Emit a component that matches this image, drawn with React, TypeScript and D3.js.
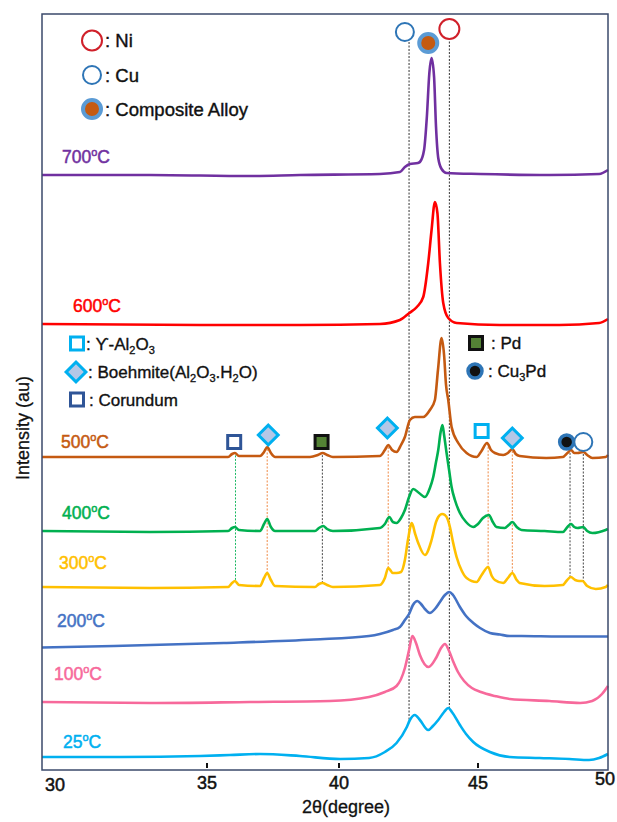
import React from 'react';
import * as d3 from 'd3';

type P = [number, number];

// ---- data (2θ in degrees, intensity in a.u. with vertical offsets) ----
const xTicks = [30, 35, 40, 45, 50];
const temps = ['700', '600', '500', '400', '300', '200', '100', '25'];

const d700: P[] = [[30,595],[33.27,595],[36.63,594],[38.52,595],[41.47,596],[42.19,598],[42.37,603],[42.55,606],[42.84,607],[42.91,608],[43.06,620],[43.16,653],[43.25,697],[43.33,712],[43.42,693],[43.49,643],[43.57,612],[43.69,601],[43.87,597],[45.08,596],[47.75,595],[49.66,596],[50,600]];
const d600: P[] = [[30,446],[34.79,445],[38.52,445],[41.47,446],[42.19,450],[42.53,457],[42.8,463],[43.03,473],[43.21,507],[43.33,540],[43.45,568],[43.54,557],[43.63,507],[43.75,467],[43.93,452],[44.23,447],[45.84,445],[48.13,445],[49.66,447],[50,451]];
const d500: P[] = [[30,313],[33.27,313],[35.8,313],[35.95,316],[36.06,317],[36.21,314],[37.01,314],[37.16,318],[37.28,323],[37.42,317],[37.58,313],[38.9,313],[39.2,315],[39.38,317],[39.55,315],[39.77,313],[41.47,314],[41.65,320],[41.77,325],[41.91,320],[42.07,318],[42.23,325],[42.37,333],[42.55,350],[42.73,353],[43.03,353],[43.27,360],[43.45,370],[43.56,400],[43.69,432],[43.78,415],[43.85,385],[43.93,370],[44.05,343],[44.29,327],[44.59,317],[44.95,313],[45.11,318],[45.35,327],[45.5,320],[45.65,317],[45.97,315],[46.15,317],[46.32,321],[46.45,316],[46.6,314],[47.62,312],[48.26,313],[48.44,317],[48.58,320],[48.7,317],[48.83,317],[49.05,318],[49.2,315],[49.4,312],[49.91,313],[50,315]];
const d400: P[] = [[30,239],[33.27,238],[35.8,239],[35.95,242],[36.06,243],[36.21,240],[37.01,239],[37.16,246],[37.28,251],[37.42,243],[37.58,239],[39.09,239],[39.24,242],[39.4,244],[39.55,241],[39.77,239],[41.47,242],[41.65,246],[41.81,253],[41.94,248],[42.07,247],[42.23,252],[42.37,260],[42.52,273],[42.67,281],[42.88,277],[43.09,273],[43.27,282],[43.39,293],[43.49,308],[43.57,320],[43.65,337],[43.72,345],[43.78,335],[43.87,317],[43.96,300],[44.05,283],[44.17,270],[44.35,257],[44.57,248],[44.83,243],[45,246],[45.19,252],[45.42,255],[45.57,248],[45.71,243],[46.03,242],[46.18,245],[46.32,248],[46.49,243],[46.67,240],[47.56,239],[48.26,238],[48.44,243],[48.58,246],[48.7,243],[48.83,242],[49.05,243],[49.2,239],[49.4,237],[49.91,240],[50,241]];
const d300: P[] = [[30,183],[33.27,182],[35.8,183],[35.95,187],[36.06,189],[36.21,185],[37.01,184],[37.16,192],[37.28,197],[37.42,190],[37.58,184],[39.09,183],[39.24,186],[39.38,187],[39.55,185],[39.77,183],[41.47,185],[41.65,192],[41.77,202],[41.94,197],[42.07,197],[42.23,198],[42.37,210],[42.48,230],[42.62,247],[42.73,237],[42.85,227],[43.09,215],[43.33,230],[43.49,248],[43.57,253],[43.71,256],[43.81,255],[43.92,250],[43.99,243],[44.1,228],[44.23,213],[44.42,199],[44.59,192],[44.95,188],[45.14,195],[45.39,203],[45.53,194],[45.65,190],[45.97,187],[46.15,192],[46.32,197],[46.49,190],[46.6,187],[47.56,184],[48.26,185],[48.4,189],[48.57,193],[48.74,190],[48.89,189],[49.02,189],[49.2,184],[49.53,181],[49.91,183],[50,185]];
const d200: P[] = [[30,122.5],[32.18,124],[35.64,127],[39.05,130.5],[41.08,134],[41.47,136],[41.94,140],[42.19,143],[42.37,150],[42.52,156],[42.66,165],[42.82,169],[42.95,166],[43.09,161],[43.27,157],[43.45,161],[43.63,168],[43.81,175],[43.97,178],[44.1,175],[44.35,163],[44.57,154],[44.83,147],[45.08,142],[45.46,137],[45.84,135.5],[46.22,134],[46.68,134],[48.13,133.5],[50,133.5]];
const d100: P[] = [[30,68],[33.27,67],[36.63,68],[39.66,69],[41.08,73],[41.65,78],[42.07,84],[42.37,102],[42.52,120],[42.64,134],[42.77,127],[42.91,115],[43.22,103],[43.49,112],[43.67,122],[43.81,126],[43.96,119],[44.1,109],[44.28,98],[44.5,89],[44.78,82],[45.11,78],[45.65,74],[46.22,71],[47.75,69],[48.93,67],[49.39,69],[49.77,76],[50,84]];
const d25: P[] = [[30,13],[32.36,13],[34.79,14],[35.87,15],[37.01,16],[38.52,14],[40.04,11],[41.08,12],[41.65,18],[42.07,27],[42.44,43],[42.55,50],[42.73,55],[42.91,50],[43.21,40],[43.38,44],[43.57,50],[43.78,58],[43.93,62],[44.06,58],[44.35,45],[44.57,36],[44.83,28],[45.46,18],[46.22,13],[47.37,12],[48.51,11],[49.27,10],[49.66,12],[50,16]];

// reference lines (Cu, Ni) and phase lines
const refLineDeg = [42.52, 43.97];
const refLineTop = [728, 732];
const phaseDeg = [36.08, 37.28, 39.37, 41.77, 45.39, 46.32, 48.54, 49.05];
const phaseKind = ['corundum', 'boehmite', 'pd', 'boehmite', 'gamma', 'boehmite', 'cu3pd', 'cu'];
// markers above the 500 °C pattern
const markerDeg = [36.03, 37.32, 39.34, 41.74, 45.14, 46.32, 48.41, 49.05];
const markerInt = [328, 335, 328, 342, 339, 332, 328, 328];
// top markers: Cu, composite, Ni
const topMarkerDeg = [42.37, 43.21, 43.97];
const topMarkerInt = [738, 727, 741];

const W = 617, H = 822;
const FONT = "'Liberation Sans', Arial, sans-serif";

const x = d3.scaleLinear().domain(xTicks).range([42, 207, 339, 478, 608]);
const y = d3.scaleLinear().domain([0, 756]).range([770, 14]);
const line = d3.line<P>().x(d => x(d[0])).y(d => y(d[1])).curve(d3.curveMonotoneX);

const series = [
  { t: temps[0], data: d700, color: '#7030A0', lx: 62, ly: 163 },
  { t: temps[1], data: d600, color: '#FF0000', lx: 73, ly: 312 },
  { t: temps[2], data: d500, color: '#C55A11', lx: 61, ly: 448 },
  { t: temps[3], data: d400, color: '#00B050', lx: 62, ly: 519 },
  { t: temps[4], data: d300, color: '#FFC000', lx: 59, ly: 569 },
  { t: temps[5], data: d200, color: '#4472C4', lx: 57, ly: 627 },
  { t: temps[6], data: d100, color: '#F7699B', lx: 54, ly: 680 },
  { t: temps[7], data: d25, color: '#00B0F0', lx: 63, ly: 748 },
];

const bis = d3.bisector((d: P) => d[0]).left;
function valAt(data: P[], deg: number) {
  const i = Math.max(1, Math.min(data.length - 1, bis(data, deg)));
  const a = data[i - 1], b = data[i];
  return d3.interpolateNumber(a[1], b[1])((deg - a[0]) / (b[0] - a[0]));
}

const phaseColor: Record<string, string> = {
  corundum: '#00B050', boehmite: '#ED7D31', pd: '#333', gamma: '#ED7D31', cu3pd: '#333', cu: '#333',
};

function Marker({ kind, cx, cy }: { kind: string; cx: number; cy: number }) {
  switch (kind) {
    case 'gamma':
      return <rect x={cx - 6.5} y={cy - 6.5} width={13} height={13} fill="#fff" stroke="#00B0F0" strokeWidth={3} />;
    case 'corundum':
      return <rect x={cx - 6.5} y={cy - 6.5} width={13} height={13} fill="#fff" stroke="#2F5597" strokeWidth={3} />;
    case 'pd':
      return <rect x={cx - 6.5} y={cy - 6.5} width={13} height={13} fill="#548235" stroke="#111" strokeWidth={3} />;
    case 'boehmite':
      return <rect x={cx - 7} y={cy - 7} width={14} height={14} fill="#B4C7E7" stroke="#00B0F0" strokeWidth={3} transform={`rotate(45 ${cx} ${cy})`} />;
    case 'cu3pd':
      return <circle cx={cx} cy={cy} r={7} fill="#111" stroke="#2E75B6" strokeWidth={3.5} />;
    case 'cu':
      return <circle cx={cx} cy={cy} r={9} fill="#fff" stroke="#2E75B6" strokeWidth={2} />;
    case 'ni':
      return <circle cx={cx} cy={cy} r={10} fill="#fff" stroke="#D0202A" strokeWidth={2} />;
    case 'alloy':
      return <circle cx={cx} cy={cy} r={9} fill="#C55A11" stroke="#5B9BD5" strokeWidth={4} />;
    default:
      return null;
  }
}

function TempLabel({ t, x: lx, y: ly, color }: { t: string; x: number; y: number; color: string }) {
  return (
    <text x={lx} y={ly} fill={color} stroke={color} strokeWidth={0.5} fontSize={17.5} fontFamily={FONT}>
      {t}
      <tspan dy={-7} fontSize={11}>o</tspan>
      <tspan dy={7}>C</tspan>
    </text>
  );
}

export default function App() {
  const xBottom = 770;
  return (
    <svg width={W} height={H} style={{ position: 'absolute', left: 0, top: 0, background: '#fff' }} fontFamily={FONT}>
      <rect x={0} y={0} width={W} height={H} fill="#fff" />
      {/* Cu / Ni reference lines */}
      {refLineDeg.map((deg, i) => (
        <line key={'r' + i} x1={x(deg)} x2={x(deg)} y1={y(refLineTop[i])} y2={y(valAt(d25, deg))}
          stroke="#333" strokeWidth={1} strokeDasharray="2,1.5" />
      ))}
      {/* phase lines from 500 °C to 300 °C */}
      {phaseDeg.map((deg, i) => (
        <line key={'p' + i} x1={x(deg)} x2={x(deg)} y1={y(valAt(d500, deg)) + 2} y2={y(valAt(d300, deg))}
          stroke={phaseColor[phaseKind[i]]} strokeWidth={0.9} strokeDasharray="2,1.5" />
      ))}
      {/* curves */}
      {series.map(s => (
        <path key={s.t} d={line(s.data) || ''} fill="none" stroke={s.color} strokeWidth={2.6} strokeLinejoin="round" />
      ))}
      {series.map(s => (
        <TempLabel key={'l' + s.t} t={s.t} x={s.lx} y={s.ly} color={s.color} />
      ))}
      {/* markers on 500 °C */}
      {markerDeg.map((deg, i) => (
        <Marker key={'m' + i} kind={phaseKind[i]} cx={x(deg)} cy={y(markerInt[i])} />
      ))}
      {/* top markers */}
      <Marker kind="cu" cx={x(topMarkerDeg[0])} cy={y(topMarkerInt[0])} />
      <Marker kind="alloy" cx={x(topMarkerDeg[1])} cy={y(topMarkerInt[1])} />
      <Marker kind="ni" cx={x(topMarkerDeg[2])} cy={y(topMarkerInt[2])} />

      {/* top legend */}
      <g fontSize={18.5} fill="#111" stroke="#111" strokeWidth={0.4}>
        <Marker kind="ni" cx={92} cy={40.5} />
        <text x={105} y={47}>: Ni</text>
        <Marker kind="cu" cx={92} cy={75} />
        <text x={105} y={81.5}>: Cu</text>
        <Marker kind="alloy" cx={92} cy={109} />
        <text x={105} y={115.5}>: Composite Alloy</text>
      </g>
      {/* middle legend */}
      <g fontSize={17} fill="#111" stroke="#111" strokeWidth={0.35}>
        <Marker kind="gamma" cx={77} cy={343.5} />
        <text x={86} y={349.5}>: ϒ-Al<tspan dy={4} fontSize={11}>2</tspan><tspan dy={-4}>O</tspan><tspan dy={4} fontSize={11}>3</tspan></text>
        <Marker kind="boehmite" cx={76} cy={372} />
        <text x={88} y={378}>: Boehmite(Al<tspan dy={4} fontSize={11}>2</tspan><tspan dy={-4}>O</tspan><tspan dy={4} fontSize={11}>3</tspan><tspan dy={-4}>.H</tspan><tspan dy={4} fontSize={11}>2</tspan><tspan dy={-4}>O)</tspan></text>
        <Marker kind="corundum" cx={77} cy={399.5} />
        <text x={89} y={405.5}>: Corundum</text>
        <Marker kind="pd" cx={476} cy={343} />
        <text x={491} y={349}>: Pd</text>
        <Marker kind="cu3pd" cx={475} cy={371} />
        <text x={488} y={377}>: Cu<tspan dy={4} fontSize={11}>3</tspan><tspan dy={-4}>Pd</tspan></text>
      </g>

      {/* frame */}
      <rect x={42} y={14} width={566} height={756} fill="none" stroke="#3B4A6B" strokeWidth={1.5} />
      {/* inner ticks */}
      {xTicks.slice(1, -1).map(t => (
        <line key={'t' + t} x1={x(t)} x2={x(t)} y1={xBottom - 7} y2={xBottom - 2} stroke="#111" strokeWidth={2} />
      ))}
      {/* tick labels */}
      <g fontSize={18} fill="#111" stroke="#111" strokeWidth={0.5}>
        {xTicks.map((t, i) => {
          const first = i === 0, last = i === xTicks.length - 1;
          return (
            <text key={'tl' + t} x={first ? x(t) + 13 : last ? x(t) - 3 : x(t)} y={first ? 791 : last ? 785 : 789}
              textAnchor="middle">{t}</text>
          );
        })}
        <text x={346} y={813} textAnchor="middle" strokeWidth={0.3}>2θ(degree)</text>
      </g>
      <text transform="translate(29,428) rotate(-90)" textAnchor="middle" fontSize={18} fill="#111" stroke="#111" strokeWidth={0.3}>Intensity (au)</text>
    </svg>
  );
}
